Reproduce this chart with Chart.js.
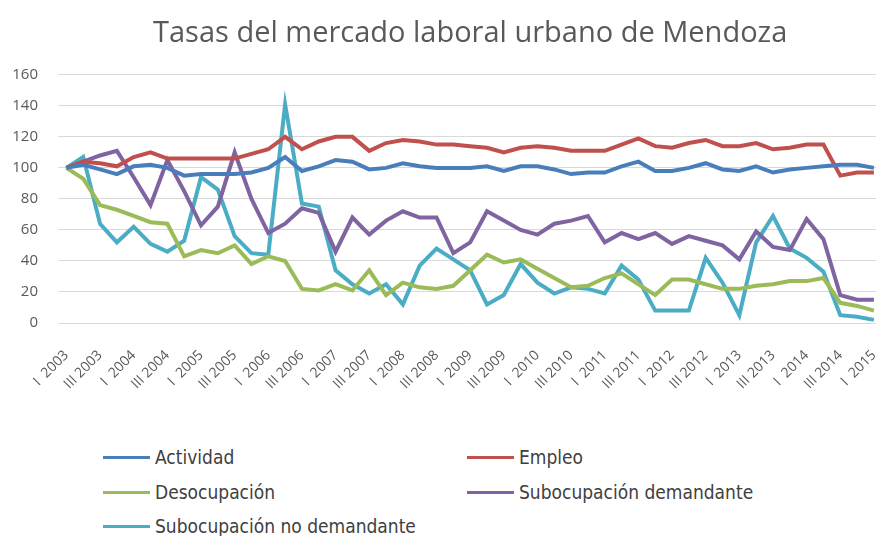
<!DOCTYPE html>
<html>
<head>
<meta charset="utf-8">
<script src="https://cdn.jsdelivr.net/npm/chart.js@4"></script>
<style>
  body { margin: 0; background: #fff; overflow: hidden; width: 876px; height: 536px; position: relative; }
  #wrap { position: absolute; left: 0; top: 0; width: 902px; height: 410px; }
  .leg { position: absolute; font-family: "Liberation Sans Narrow", "DejaVu Sans Condensed", sans-serif; font-size: 19px; color: #404040; display: flex; align-items: center; height: 24px; white-space: nowrap; }
  .leg .sw { display: inline-block; width: 47px; height: 3px; margin-right: 5px; }
</style>
</head>
<body>
<div id="wrap"><canvas id="myChart" width="902" height="410"></canvas></div>
<div id="legend"></div>
<script>
const quarters = [
  "I  2003", "II 2003", "III 2003", "IV 2003",
  "I  2004", "II 2004", "III 2004", "IV 2004",
  "I  2005", "II 2005", "III 2005", "IV 2005",
  "I  2006", "II 2006", "III 2006", "IV 2006",
  "I  2007", "II 2007", "III 2007", "IV 2007",
  "I  2008", "II 2008", "III 2008", "IV 2008",
  "I  2009", "II 2009", "III 2009", "IV 2009",
  "I  2010", "II 2010", "III 2010", "IV 2010",
  "I  2011", "II 2011", "III 2011", "IV 2011",
  "I  2012", "II 2012", "III 2012", "IV 2012",
  "I  2013", "II 2013", "III 2013", "IV 2013",
  "I  2014", "II 2014", "III 2014", "IV 2014",
  "I  2015"
];

const actividad = [100, 102, 99, 96, 101, 102, 100, 95, 96, 96, 96, 97, 100, 107, 98, 101, 105,
  104, 99, 100, 103, 101, 100, 100, 100, 101, 98, 101, 101, 99, 96, 97, 97, 101, 104, 98, 98,
  100, 103, 99, 98, 101, 97, 99, 100, 101, 102, 102, 100];
const empleo = [100, 104, 103, 101, 107, 110, 106, 106, 106, 106, 106, 109, 112, 120, 112, 117, 120,
  120, 111, 116, 118, 117, 115, 115, 114, 113, 110, 113, 114, 113, 111, 111, 111, 115, 119, 114, 113,
  116, 118, 114, 114, 116, 112, 113, 115, 115, 95, 97, 97];
const desocupacion = [100, 93, 76, 73, 69, 65, 64, 43, 47, 45, 50, 38, 43, 40, 22, 21, 25,
  21, 34, 18, 26, 23, 22, 24, 34, 44, 39, 41, 35, 29, 23, 24, 29, 32, 25, 18, 28,
  28, 25, 22, 22, 24, 25, 27, 27, 29, 13, 11, 8];
const subDemandante = [100, 104, 108, 111, 94, 76, 105, 85, 63, 75, 110, 80, 58, 64, 74, 71, 46,
  68, 57, 66, 72, 68, 68, 45, 52, 72, 66, 60, 57, 64, 66, 69, 52, 58, 54, 58, 51,
  56, 53, 50, 41, 59, 49, 47, 67, 54, 18, 15, 15];
const subNoDemandante = [100, 107, 64, 52, 62, 51, 46, 53, 94, 86, 56, 45, 44, 141, 77, 75, 34,
  25, 19, 25, 12, 37, 48, 41, 34, 12, 18, 38, 26, 19, 23, 22, 19, 37, 28, 8, 8,
  8, 42, 26, 5, 52, 69, 48, 42, 33, 5, 4, 2];

const seriesNames = ["Actividad", "Empleo", "Desocupación", "Subocupación demandante", "Subocupación no demandante"];
const seriesColors = ["#4a7ebb", "#c0504d", "#9bbb59", "#8064a2", "#4bacc6"];
const seriesData = [actividad, empleo, desocupacion, subDemandante, subNoDemandante];

const tickFont = { family: "'Open Sans', sans-serif", size: 14 };

const ctx = document.getElementById("myChart").getContext("2d");
new Chart(ctx, {
  type: "line",
  data: {
    labels: quarters,
    datasets: seriesNames.map((name, i) => ({
      label: name,
      data: seriesData[i],
      borderColor: seriesColors[i],
      backgroundColor: seriesColors[i],
      borderWidth: 4,
      pointRadius: 0,
      tension: 0,
      fill: false,
    })),
  },
  options: {
    responsive: false,
    animation: false,
    layout: { padding: { left: 0, right: 4, top: 0, bottom: 0 } },
    plugins: {
      legend: { display: false },
      tooltip: { enabled: false },
      title: {
        display: true,
        text: "Tasas del mercado laboral urbano de Mendoza",
        fullSize: false,
        color: "#595959",
        font: { family: "'Open Sans', sans-serif", size: 29, weight: "normal" },
        padding: { top: 16, bottom: 24 },
      },
    },
    scales: {
      x: {
        offset: true,
        grid: { display: false },
        border: { display: false },
        ticks: {
          autoSkip: false,
          minRotation: 45,
          maxRotation: 45,
          padding: 16,
          color: "#595959",
          font: tickFont,
          callback: (v, i) => (i % 2 === 0 ? quarters[i] : ""),
        },
        afterFit: (s) => { s.height = 87; },
      },
      y: {
        min: 0,
        max: 160,
        ticks: { stepSize: 20, padding: 20, color: "#595959", font: { family: "'Open Sans', sans-serif", size: 15 } },
        grid: { color: "#d9d9d9", drawTicks: false },
        border: { display: false },
        afterFit: (s) => { s.width = 58; },
      },
    },
  },
});

// legend in two columns under the chart
const legend = document.getElementById("legend");
const legCols = [103, 467];
const legRows = [445, 480, 514];
seriesNames.forEach((name, i) => {
  const item = document.createElement("div");
  item.className = "leg";
  item.style.left = legCols[i % 2] + "px";
  item.style.top = legRows[Math.floor(i / 2)] + "px";
  item.innerHTML = '<span class="sw" style="background:' + seriesColors[i] + '"></span>' + name;
  legend.appendChild(item);
});
</script>
</body>
</html>
